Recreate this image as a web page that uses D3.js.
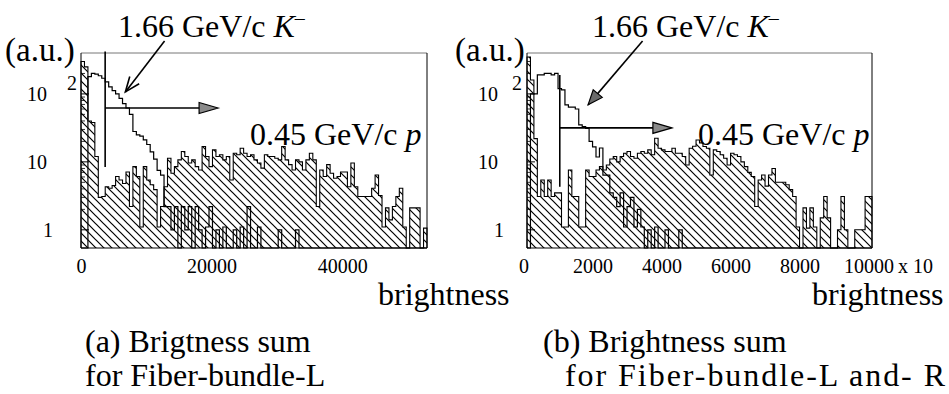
<!DOCTYPE html>
<html><head><meta charset="utf-8">
<script src="https://cdn.jsdelivr.net/npm/d3@7"></script>
<style>
body{margin:0;background:#fff}
svg{display:block}
text{font-family:"Liberation Serif","Times New Roman",serif;fill:#000}
</style>
</head><body>
<svg id="c" width="949" height="394"></svg>
<script>
// ---------------- DATA ----------------
// (a) Fiber-bundle-L : 100 bins of 530 (brightness units)
const binWidthL = 530, binStartL = 0;
const protonL = [300,250,40,38,12,3,3.1,4.3,4.1,4.5,
  6.1,5.4,4.8,7.1,2.2,8.5,6.1,1.1,8.5,5.4,
  4.6,3.9,1.1,2.2,4.3,11.3,6.8,8.5,10.7,14.2,
  12,9.6,10.7,8.5,7.6,16.8,12,8.5,15,12,
  12.7,10.7,12,5.4,13.4,12.7,15.9,13.4,12,12.7,
  10.7,9.6,8.1,12.7,12,12,11.3,10.7,16.8,10.7,
  9.1,7.6,10.7,10,7.6,10.7,13.4,10.7,2.2,7.6,
  6.1,9.1,6.8,5.75,6.1,7.1,7.1,4.3,9.6,4.3,
  3.1,3.1,3.1,3.1,4.1,6.4,3.2,1.1,2.1,1.4,
  2.2,3.1,4.1,1.1,0,2.1,2.1,2.1,0,1.06];
const kaonL = [0,0,180,200,195,185,170,150,127,112,
  100,86,72,62,50,28,25,24,21,18,
  14,11,7.5,6.4,2.2,2.2,1,2.2,0,2.2,
  1,2.2,0,2.2,1,0,1.1,2.2,0,1,
  0,1.1,0,0,1,0,1.1,0,2.2,0,
  0,1.1,0,0,0,0,0,1,0,0,
  0,0,1,0,0,0,0,0,0,0,
  0,0,0,0,0,0,0,0,0,0,
  0,0,0,0,0,0,0,0,0,0,
  0,0,0,0,0,0,0,0,0,0];
const xTicksL = [0, 20000, 40000];

// (b) Fiber-bundle-L and -R : 100 bins of 100 (x10 brightness units)
const binWidthR = 100, binStartR = 100;
const protonR = [350,160,22,3.1,5.4,3.1,5.4,3.1,3.5,3.5,
  1.1,1.1,7.6,3.1,3.1,1.1,1.1,7.6,6.1,6.1,
  7.6,8.5,7.6,9,11,12,10,12,13.4,14.2,
  12,11.3,13.4,14.2,13.4,15,12.7,22.3,15.9,15,
  14.2,14.2,15.9,13.4,13.4,12,9,15.9,17,21,
  19,16.8,15.9,6.4,15,14.2,12.7,11.3,9,13.4,
  12.7,12,10,8.5,7,6.1,2.2,5.4,6.4,4.4,
  6.4,8,5,5,5,4.6,3.9,3.1,1.1,0,
  2.1,1.06,2.1,1.1,0,1.5,3.1,1.5,0,0,
  1,3.1,1,0,0,1,1,1,3.1,3.1];
const kaonR = [0,100,100,190,190,200,200,190,200,120,
  115,69,64,64,60,35,33,31,20,16.6,
  11.8,16,6.4,6.4,3.5,3,2.2,3.5,1.1,2.2,
  3,1.1,2,1.1,0,1,0,1.1,0,0,
  1,0,0,0,1,0,0,0,0,0,
  0,0,0,0,0,0,0,0,0,0,
  0,0,0,0,0,0,0,0,0,0,
  0,0,0,0,0,0,0,0,0,0,
  0,0,0,0,0,0,0,0,0,0,
  0,0,0,0,0,0,0,0,0,0];
const xTicksR = [0, 2000, 4000, 6000, 8000, 10000];

const yTicks = [1, 10, 100];
const yMinorTicks = [2,3,4,5,6,7,8,9,20,30,40,50,60,70,80,90,200,300];

// Cut lines / arrows (data units)
const cutL = {x: 3700, top: 420, bottom: 8.4, arrowTo: 21000, arrowY: 62};
const cutR = {x: 1050, top: 190, bottom: 4.3, arrowTo: 4300, arrowY: 31.6};
const kArrowL = {from: [12800, 600], to: [6800, 107]};
const kArrowR = {from: [3450, 600], to: [1870, 69]};

// ---------------- DRAW ----------------
const svg = d3.select("#c");
const defs = svg.append("defs");
const pat = defs.append("pattern").attr("id","hatch").attr("patternUnits","userSpaceOnUse")
  .attr("width",8).attr("height",8);
pat.append("path").attr("d","M0,0L8,8M-2,6L2,10M6,-2L10,2")
  .attr("stroke","#000").attr("stroke-width",1.2).attr("fill","none");

function panel(o){
  const g = svg.append("g");
  const x = d3.scaleLinear().domain(o.xDomain).range([o.left, o.right]);
  const y = d3.scaleLog().domain([0.54, 400]).range([o.bottom, o.top]);
  const yv = v => v > 0 ? Math.min(y(v), o.bottom) : o.bottom;

  function pts(vals){
    const p = [[x(o.binStart), o.bottom]];
    vals.forEach((v,i)=>{
      const x0 = x(o.binStart + i*o.binWidth), x1 = x(o.binStart + (i+1)*o.binWidth);
      p.push([x0, yv(v)]); p.push([x1, yv(v)]);
    });
    p.push([x(o.binStart + vals.length*o.binWidth), o.bottom]);
    return p;
  }
  const line = d3.line();
  const pp = pts(o.proton);
  g.append("path").attr("d", line(pp)+"Z").attr("fill","url(#hatch)").attr("stroke","none");
  g.append("path").attr("d", line(pp)).attr("fill","none").attr("stroke","#000").attr("stroke-width",1.1);
  g.append("path").attr("d", line(pts(o.kaon))).attr("fill","none").attr("stroke","#000").attr("stroke-width",1.2);

  // frame
  g.append("line").attr("x1",o.left).attr("x2",o.right).attr("y1",o.top).attr("y2",o.top)
    .attr("stroke","#777").attr("stroke-width",1);
  g.append("path").attr("d",`M${o.left},${o.top}V${o.bottom}H${o.right}V${o.top}`)
    .attr("fill","none").attr("stroke","#000").attr("stroke-width",1);

  // y ticks (inside)
  g.selectAll(".ymaj").data(yTicks).enter().append("line")
    .attr("x1",o.left).attr("x2",o.left+8).attr("y1",d=>y(d)).attr("y2",d=>y(d))
    .attr("stroke","#000").attr("stroke-width",1);
  g.selectAll(".ymin").data(yMinorTicks).enter().append("line")
    .attr("x1",o.left).attr("x2",o.left+4).attr("y1",d=>y(d)).attr("y2",d=>y(d))
    .attr("stroke","#000").attr("stroke-width",0.8);

  // y labels
  const fs = 20;
  g.append("text").attr("x",o.left-o.lab10).attr("y",y(100)+7).attr("text-anchor","end").attr("font-size",fs).text("10");
  g.append("text").attr("x",o.left-o.lab2).attr("y",y(100)-4).attr("font-size",fs).text("2");
  g.append("text").attr("x",o.left-o.lab10).attr("y",y(10)+7).attr("text-anchor","end").attr("font-size",fs).text("10");
  g.append("text").attr("x",o.left-o.lab1).attr("y",y(1)+7).attr("text-anchor","end").attr("font-size",fs).text("1");

  // x axis labels
  const ax = d3.axisBottom(x).tickValues(o.xTicks).tickSize(0).tickPadding(0).tickFormat(d3.format("d"));
  const axg = g.append("g").attr("transform",`translate(0,${o.bottom+25})`).call(ax);
  axg.select(".domain").remove();
  axg.selectAll("text").attr("font-size",fs).attr("font-family",'"Liberation Serif",serif').attr("dy",0);

  // cut line and arrow
  const c = o.cut;
  g.append("line").attr("x1",x(c.x)).attr("x2",x(c.x)).attr("y1",y(c.top)).attr("y2",y(c.bottom))
    .attr("stroke","#000").attr("stroke-width",1.6);
  const ax2 = x(c.arrowTo), ay = y(c.arrowY);
  g.append("line").attr("x1",x(c.x)).attr("x2",ax2-16).attr("y1",ay).attr("y2",ay)
    .attr("stroke","#000").attr("stroke-width",1.6);
  g.append("path").attr("d",`M${ax2},${ay}L${ax2-19},${ay-5.5}L${ax2-19},${ay+5.5}Z`)
    .attr("fill","#8a8a8a").attr("stroke","#000").attr("stroke-width",1.2);

  // K arrow
  const ka = o.kArrow;
  const fx = x(ka.from[0]), fy = y(ka.from[1]), tx = x(ka.to[0]), ty = y(ka.to[1]);
  g.append("line").attr("x1",fx).attr("y1",fy).attr("x2",tx).attr("y2",ty).attr("stroke","#000").attr("stroke-width",1.6);
  const ang = Math.atan2(ty-fy, tx-fx);
  const L = 16, spread = 0.38;
  const p1 = [tx - L*Math.cos(ang-spread), ty - L*Math.sin(ang-spread)];
  const p2 = [tx - L*Math.cos(ang+spread), ty - L*Math.sin(ang+spread)];
  if (o.kOpen){
    g.append("path").attr("d",`M${p1[0]},${p1[1]}L${tx},${ty}L${p2[0]},${p2[1]}`)
      .attr("fill","none").attr("stroke","#000").attr("stroke-width",1.6);
  } else {
    g.append("path").attr("d",`M${tx},${ty}L${p1[0]},${p1[1]}L${p2[0]},${p2[1]}Z`)
      .attr("fill","#6a6a6a").attr("stroke","#000").attr("stroke-width",1.2);
  }

  // texts
  g.append("text").attr("x",o.auX).attr("y",61).attr("font-size",33).text("(a.u.)");
  const kt = g.append("text").attr("x",o.kTextX).attr("y",37).attr("font-size",32);
  kt.append("tspan").text("1.66 GeV/c ");
  kt.append("tspan").attr("font-style","italic").text("K");
  kt.append("tspan").attr("font-size",20).attr("dy",-12).text("\u2013");
  const pt = g.append("text").attr("x",o.pTextX).attr("y",145).attr("font-size",32);
  pt.append("tspan").text("0.45 GeV/c ");
  pt.append("tspan").attr("font-style","italic").text("p");
  g.append("text").attr("x",o.brX).attr("y",305).attr("font-size",32).text("brightness");
  return {x,y};
}

panel({left:81,right:427,top:53,bottom:248,xDomain:[0,53000],binStart:binStartL,binWidth:binWidthL,
  proton:protonL,kaon:kaonL,xTicks:xTicksL,lab10:34,lab2:14,lab1:28,cut:cutL,kArrow:kArrowL,kOpen:true,
  auX:5,kTextX:118,pTextX:250,brX:378});
panel({left:527,right:872,top:53,bottom:248,xDomain:[100,10100],binStart:binStartR,binWidth:binWidthR,
  proton:protonR,kaon:kaonR,xTicks:xTicksR,lab10:29,lab2:15,lab1:23,cut:cutR,kArrow:kArrowR,kOpen:false,
  auX:455,kTextX:592,pTextX:698,brX:812});

svg.append("text").attr("x",898).attr("y",273).attr("font-size",20).text("x 10");
const caps = [["(a) Brigtness sum",85,352],["for Fiber-bundle-L",85,386],
              ["(b) Brightness sum",543,352]];
svg.selectAll(".cap").data(caps).enter().append("text")
  .attr("x",d=>d[1]).attr("y",d=>d[2]).attr("font-size",32).text(d=>d[0]);
svg.append("text").attr("x",565).attr("y",386).attr("font-size",32)
  .attr("textLength",380).attr("lengthAdjust","spacing").text("for Fiber-bundle-L and- R");
</script>
</body></html>
